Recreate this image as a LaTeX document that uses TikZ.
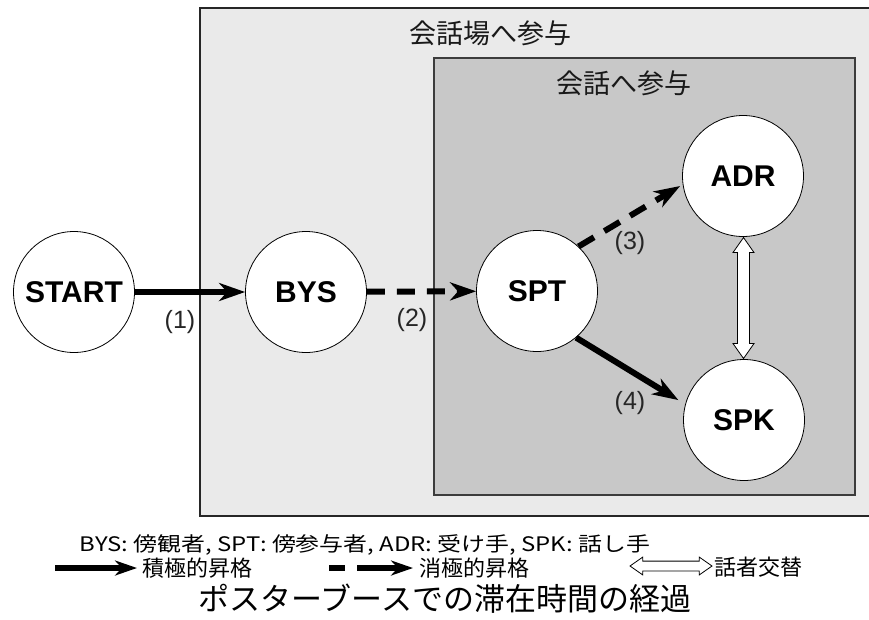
\documentclass[tikz,border=0pt]{standalone}
\usepackage{fontspec}
\usepackage{graphicx}
\setmainfont{Liberation Sans}
\newfontfamily\jp{Noto Sans CJK JP}
\usetikzlibrary{arrows.meta,shapes.arrows,calc}
\definecolor{hallfill}{HTML}{EAEAEA}
\definecolor{talkfill}{HTML}{C8C8C8}
\definecolor{talkedge}{HTML}{3C3C3C}
\begin{document}
\begin{tikzpicture}[x=1pt,y=-1pt,
  state/.style={circle,draw=black,line width=0.8pt,fill=white,minimum size=121pt,
    inner sep=0pt,font=\fontsize{30}{31}\selectfont\bfseries},
  promote/.style={line width=6pt,-{Stealth[length=26pt,width=18pt,inset=8pt]}},
  passive/.style={promote,dash pattern=on 18pt off 12pt},
  keyarrow/.style={line width=5.5pt,-{Stealth[length=22pt,width=15pt,inset=7pt]}},
  keydashed/.style={keyarrow,dash pattern=on 16pt off 12pt on 80pt off 12pt},
  steplabel/.style={font=\fontsize{25}{27}\selectfont,text=black!85},
  swaparrow/.style={double arrow,draw=black,line width=0.8pt,fill=white,
    inner xsep=0pt,inner ysep=5.5pt,double arrow head extend=4.5pt,
    double arrow tip angle=70},
  boxtitle/.style={font=\jp\fontsize{27}{28}\selectfont,text=black!90},
  keytext/.style={font=\jp\fontsize{22}{24}\selectfont,anchor=west,inner sep=0pt}]
\useasboundingbox (0,0) rectangle (869,619);
\begin{scope}
  \clip (0,0) rectangle (869,619);
  % venue area and conversation area
  \draw[fill=hallfill,draw=black!85,line width=1.5pt] (200,8) rectangle (890,516);
  \draw[fill=talkfill,draw=talkedge,line width=2pt] (434,58) rectangle (855,495);
\end{scope}
\node[boxtitle] (hallttl) at (490,33) {会話場へ参与};
\node[boxtitle] (talkttl) at (624,83) {会話へ参与};

% states
\node[state] (START) at (74,292) {START};
\node[state] (BYS) at (306,292) {BYS};
\node[state] (SPT) at (537,291) {SPT};
\node[state] (ADR) at (743,176) {ADR};
\node[state] (SPK) at (744,420) {SPK};

% transitions
\draw[promote] (START) -- (BYS);
\draw[passive] (BYS) -- (SPT);
\draw[passive,shorten >=3pt] (SPT.47) -- (ADR.188);
\draw[promote,shorten >=8pt] (SPT.-50) -- (SPK.165);
\node[swaparrow,rotate=90,minimum height=121pt,minimum width=21pt] (swap)
  at ($(ADR.south)!0.5!(SPK.north)$) {};

\node[steplabel] (l1) at (180,322) {(1)};
\node[steplabel] (l2) at (412,320) {(2)};
\node[steplabel] (l3) at (630,243) {(3)};
\node[steplabel] (l4) at (630,403) {(4)};

% key
\node[inner sep=0pt] (abbr) at (365,545)
  {\resizebox{570pt}{\height}{\jp\fontsize{20}{22}\selectfont BYS: 傍観者, SPT: 傍参与者, ADR: 受け手, SPK: 話し手}};
\coordinate (k1a) at (55,568);
\coordinate (k1b) at (137,568);
\draw[keyarrow] (k1a) -- (k1b);
\node[keytext] (k1t) at (142,568) {積極的昇格};
\coordinate (k2a) at (329,568);
\coordinate (k2b) at (413,568);
\draw[keydashed] (k2a) -- (k2b);
\node[keytext] (k2t) at (419,568) {消極的昇格};
\node[swaparrow,minimum height=82pt,minimum width=17pt,inner ysep=4.5pt,
  double arrow head extend=4pt] (k3) at (671,566) {};
\node[keytext] (k3t) at (714,567) {話者交替};

\node[font=\jp\fontsize{31}{33}\selectfont] (caption) at (445,599)
  {ポスターブースでの滞在時間の経過};
\end{tikzpicture}
\end{document}
